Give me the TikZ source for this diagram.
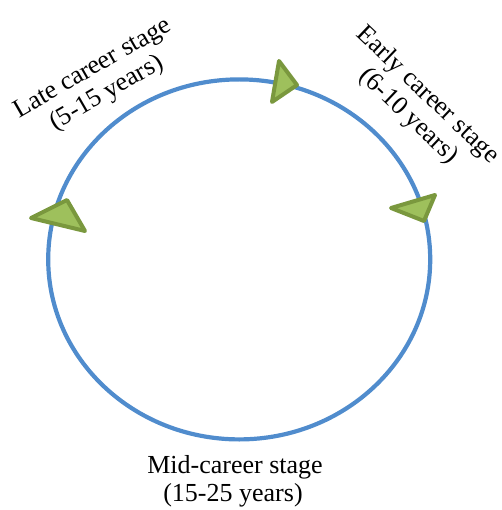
\documentclass[tikz,border=0pt]{standalone}
\usepackage{fontspec}
\setmainfont{Liberation Serif}
\definecolor{ringblue}{RGB}{80,140,205}
\definecolor{arrowfill}{RGB}{158,192,92}
\definecolor{arrowedge}{RGB}{122,152,62}
\tikzset{
  ring/.style={draw=ringblue, line width=4.2pt},
  marker/.style={fill=arrowfill, draw=arrowedge, line width=4pt, line join=round},
  lbl/.style={font=\fontsize{26}{28.5}\selectfont, inner sep=0pt, anchor=base, text=black}
}
\begin{document}
\begin{tikzpicture}[x=1pt, y=-1pt]
  \useasboundingbox (0,0) rectangle (501,510);
  % career cycle
  \draw[ring] (239.2,259.4) ellipse [x radius=191, y radius=180];
  % direction markers
  \coordinate (t1a) at (279,61);
  \coordinate (t1b) at (297,85);
  \coordinate (t1c) at (272,102);
  \filldraw[marker] (t1a) -- (t1b) -- (t1c) -- cycle;
  \coordinate (t2a) at (435,195);
  \coordinate (t2b) at (391,208);
  \coordinate (t2c) at (424,221);
  \filldraw[marker] (t2a) -- (t2b) -- (t2c) -- cycle;
  \coordinate (t3a) at (67,200);
  \coordinate (t3b) at (31,218);
  \coordinate (t3c) at (85,231);
  \filldraw[marker] (t3a) -- (t3b) -- (t3c) -- cycle;
  % stage labels
  \node[lbl, rotate=30] (late1) at (96,74) {Late career stage};
  \node[lbl, rotate=30] (late2) at (110,99) {(5-15 years)};
  \node[lbl, rotate=-43.5] (early1) at (423,100) {Early career stage};
  \node[lbl, rotate=-43.5] (early2) at (404,121) {(6-10 years)};
  \node[lbl] (mid1) at (235,473) {Mid-career stage};
  \node[lbl] (mid2) at (233,501.5) {(15-25 years)};
\end{tikzpicture}
\end{document}
